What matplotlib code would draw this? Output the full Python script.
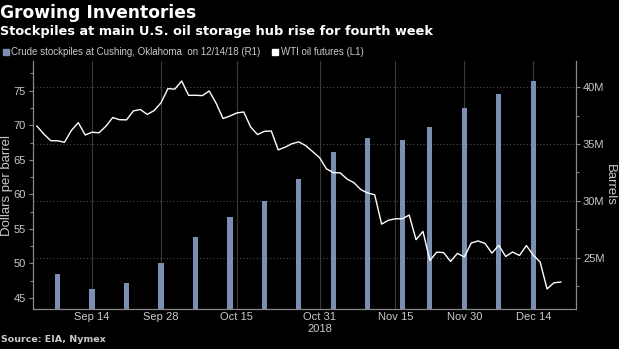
import numpy as np
import pandas as pd
import matplotlib
matplotlib.use("Agg")
import matplotlib.pyplot as plt
from matplotlib.patches import Rectangle
from matplotlib.ticker import MultipleLocator, FuncFormatter

# Trading days (NYMEX), Thanksgiving closed
days = pd.bdate_range("2018-09-04", "2018-12-20")
days = days[days != pd.Timestamp("2018-11-22")]

# WTI front-month settlements, $/bbl
wti = [
    69.87, 68.72, 67.77, 67.75, 67.54, 69.25, 70.37, 68.59, 68.99, 68.91,
    69.85, 71.12, 70.80, 70.78, 72.08, 72.28, 71.57, 72.12, 73.25,
    75.30, 75.23, 76.41, 74.33, 74.34, 74.29, 74.96, 73.17, 70.97, 71.34,
    71.78, 71.92, 69.75, 68.65, 69.12, 69.17, 66.43, 66.82, 67.33, 67.59,
    67.04, 66.18, 65.31,
    63.69, 63.14, 63.10, 62.21, 61.67, 60.67, 60.19, 59.93, 55.69, 56.25,
    56.46, 56.46, 57.00, 53.43, 54.63, 50.42, 51.63, 51.56, 50.29, 51.45,
    50.93,
    52.95, 53.25, 52.89, 51.49, 52.61, 51.00, 51.65, 51.15, 52.58, 51.20,
    50.20, 46.30, 47.20, 47.30,
]

# Cushing crude stocks, weekly (million barrels)
stock_weeks = ["2018-09-07", "2018-09-14", "2018-09-21", "2018-09-28",
               "2018-10-05", "2018-10-12", "2018-10-19", "2018-10-26",
               "2018-11-02", "2018-11-09", "2018-11-16", "2018-11-23",
               "2018-11-30", "2018-12-07", "2018-12-14"]
stocks = [23.6, 22.3, 22.8, 24.5, 26.8, 28.6, 30.0, 31.9,
          34.3, 35.5, 35.35, 36.5, 38.2, 39.4, 40.5]

tick_dates = ["2018-09-14", "2018-09-28", "2018-10-15", "2018-10-31",
              "2018-11-15", "2018-11-30", "2018-12-14"]
tick_labels = ["Sep 14", "Sep 28", "Oct 15", "Oct 31", "Nov 15", "Nov 30", "Dec 14"]

pos = {d: i for i, d in enumerate(days)}
x_line = np.arange(len(days))
x_bars = [pos[pd.Timestamp(d)] for d in stock_weeks]
x_ticks = [pos[pd.Timestamp(d)] for d in tick_dates]

BG = "black"
TXT = "#c9c9c9"
AXC = "#8a8a8a"
BAR = "#7b8fb3"
small = ["Liberation Sans", "DejaVu Sans"]

fig = plt.figure(figsize=(6.19, 3.49), dpi=100, facecolor=BG)
ax = fig.add_axes([33 / 619, 1 - 309 / 349, (576 - 33) / 619, (309 - 61) / 349])
ax.set_facecolor(BG)

# bars on the base axes, scale on the right
ax.bar(x_bars, stocks, width=0.75, color=BAR, zorder=2)
ax.set_ylim(20.5, 42.3)
ax.set_xlim(-0.57, 78.2)

ax2 = ax.twinx()
ax2.plot(x_line, wti, color="white", lw=1.0, zorder=3)
ax2.set_ylim(43.4, 79.3)

# swap sides: barrels right, dollars left
ax.yaxis.tick_right()
ax2.yaxis.tick_left()

ax.yaxis.set_minor_locator(MultipleLocator(2.5))
ax.set_yticks([25, 30, 35, 40])
ax.yaxis.set_major_formatter(FuncFormatter(lambda v, p: f"{v:.0f}M"))
ax2.yaxis.set_major_locator(MultipleLocator(5))
ax2.yaxis.set_minor_locator(MultipleLocator(2.5))

ax.set_xticks(x_ticks)
ax.set_xticklabels(tick_labels)

ax.grid(axis="x", color="#3a3a3a", lw=0.8, zorder=0)
ax.grid(axis="y", color="#4a4a4a", lw=0.8, ls=(0, (1, 2)), zorder=0)
ax.set_axisbelow(True)

for a in (ax, ax2):
    a.spines["top"].set_visible(False)
    for s in ("left", "right", "bottom"):
        a.spines[s].set_color(AXC)
        a.spines[s].set_linewidth(0.8)
    a.tick_params(colors=AXC, labelcolor=TXT, labelsize=8, length=3, width=0.8, pad=2)
    a.tick_params(which="minor", colors=AXC, length=2, width=0.8)
    for lbl in a.get_xticklabels() + a.get_yticklabels():
        lbl.set_family(small)
ax.tick_params(axis="x", length=0, pad=2.5)

fig.text(7 / 619, 1 - 185 / 349, "Dollars per barrel", color=TXT, fontsize=9.5,
         family=small, rotation=90, ha="center", va="center")
fig.text(610 / 619, 1 - 185 / 349, "Barrels", color=TXT, fontsize=9.5,
         family=small, rotation=270, ha="center", va="center")

ax.annotate("2018", xy=(pos[pd.Timestamp("2018-10-31")], 0), xycoords=("data", "axes fraction"),
            xytext=(0, -14.5), textcoords="offset points", ha="center", va="center",
            color=TXT, fontsize=8, family=small)

# header
fig.text(0.0, 1 - 13 / 349, "Growing Inventories", color="white", fontsize=12.3,
         fontweight="bold", va="center", ha="left")
fig.text(0.0, 1 - 31 / 349, "Stockpiles at main U.S. oil storage hub rise for fourth week",
         color="white", fontsize=9.3, fontweight="bold", va="center", ha="left")

# legend
fig.patches.append(Rectangle((3 / 619, 1 - 55 / 349), 6 / 619, 6 / 349,
                             transform=fig.transFigure, color=BAR))
fig.text(11 / 619, 1 - 52 / 349, "Crude stockpiles at Cushing, Oklahoma  on 12/14/18 (R1)",
         color=TXT, fontsize=7, family=small, va="center")
fig.patches.append(Rectangle((272 / 619, 1 - 55 / 349), 6 / 619, 6 / 349,
                             transform=fig.transFigure, color="white"))
fig.text(281 / 619, 1 - 52 / 349, "WTI oil futures (L1)",
         color=TXT, fontsize=7, family=small, va="center")

fig.text(1 / 619, 1 - 339 / 349, "Source: EIA, Nymex", color=TXT, fontsize=6.8,
         fontweight="bold", va="center")

fig.savefig("out.png", dpi=100, facecolor=BG)
